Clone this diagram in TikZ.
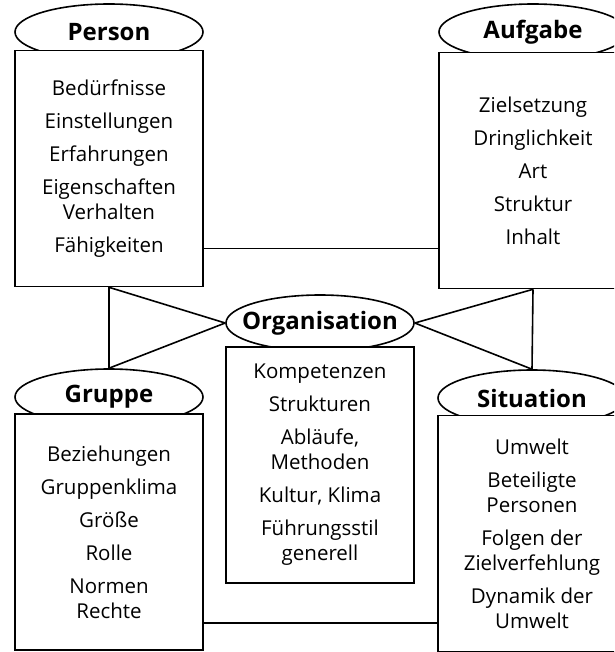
\documentclass[tikz,border=0pt]{standalone}
\usepackage{fontspec}
\setmainfont{Open Sans}
\usetikzlibrary{shapes.geometric, positioning}

\begin{document}
\begin{tikzpicture}[
  x=1pt, y=-1pt,
  titel/.style={draw, ellipse, line width=1.6pt, fill=white, minimum width=188pt, minimum height=56pt, inner xsep=-14pt, inner ysep=0pt, font=\fontsize{24}{26}\selectfont\bfseries},
  feld/.style={draw, rectangle, line width=1.6pt, fill=white, minimum width=188pt, minimum height=236pt, align=center, inner sep=0pt, font=\fontsize{20.5}{25}\selectfont},
  link/.style={line width=1.6pt}
]
  \useasboundingbox (0,0) rectangle (614,652);
  \clip (0,0) rectangle (614,652);

  % Titel zuerst, die Felder liegen darueber
  \node[titel] (person) at (109, 32) {Person};
  \node[titel] (aufgabe) at (533, 32) {Aufgabe};
  \node[titel] (organisation) at (320, 323) {Organisation};
  \node[titel] (gruppe) at (109, 397) {Gruppe};
  \node[titel] (situation) at (532, 398) {Situation};

  \node[feld] (personbox) at (109, 168.5) {Bedürfnisse\\[8pt]Einstellungen\\[8pt]Erfahrungen\\[8pt]Eigenschaften\\Verhalten\\[8pt]Fähigkeiten};
  \node[feld] (aufgabebox) at (533, 170.5) {Zielsetzung\\[8pt]Dringlichkeit\\[8pt]Art\\[8pt]Struktur\\[8pt]Inhalt};
  \node[feld] (organisationbox) at (320, 465) {Kompetenzen\\[8pt]Strukturen\\[8pt]Abläufe,\\Methoden\\[8pt]Kultur, Klima\\[8pt]Führungsstil\\generell};
  \node[feld] (gruppebox) at (109, 532) {Beziehungen\\[8pt]Gruppenklima\\[8pt]Größe\\[8pt]Rolle\\[8pt]Normen\\Rechte};
  \node[feld] (situationbox) at (532, 533.5) {Umwelt\\[8pt]Beteiligte\\Personen\\[8pt]Folgen der\\Zielverfehlung\\[8pt]Dynamik der\\Umwelt};

  % Verbindungen
  \draw[link] (personbox.south) -- (gruppe.north);
  \draw[link] (personbox.south) -- (organisation.west);
  \draw[link] (gruppe.north) -- (organisation.west);
  \draw[link] (aufgabebox.south) -- (situation.north);
  \draw[link] (aufgabebox.south) -- (organisation.east);
  \draw[link] (situation.north) -- (organisation.east);

  \coordinate (oben) at ([yshift=39pt]personbox.south east);
  \draw[link] (oben) -- (oben -| aufgabebox.west);
  \coordinate (unten) at ([yshift=28pt]gruppebox.south east);
  \draw[link] (unten) -- (unten -| situationbox.west);
\end{tikzpicture}
\end{document}
